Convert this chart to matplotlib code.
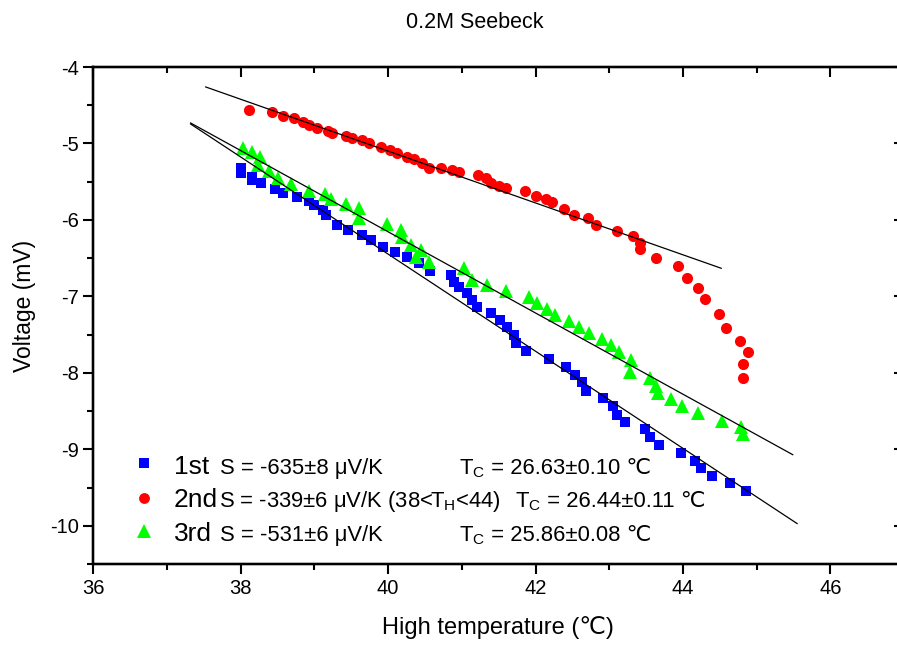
import matplotlib
matplotlib.use("Agg")
import matplotlib.pyplot as plt
import numpy as np
from matplotlib.transforms import offset_copy

plt.rcParams['font.family'] = ['Liberation Sans', 'DejaVu Sans']
plt.rcParams['axes.unicode_minus'] = False
plt.rcParams['mathtext.default'] = 'regular'

# ---- data ----
t1 = [38.01, 38.01, 38.15, 38.16, 38.28, 38.47, 38.57, 38.77, 38.93, 39.00, 39.11, 39.16,
      39.31, 39.45, 39.65, 39.77, 39.93, 40.10, 40.26, 40.42, 40.57, 40.85, 40.89, 40.96,
      41.07, 41.14, 41.21, 41.40, 41.52, 41.61, 41.71, 41.73, 41.87, 42.18, 42.42, 42.53,
      42.63, 42.69, 42.91, 43.05, 43.11, 43.22, 43.48, 43.56, 43.68, 43.97, 44.16, 44.25,
      44.39, 44.64, 44.86]
v1 = [-5.32, -5.39, -5.44, -5.48, -5.52, -5.59, -5.65, -5.70, -5.75, -5.80, -5.87, -5.93,
      -6.07, -6.13, -6.20, -6.26, -6.35, -6.42, -6.48, -6.56, -6.67, -6.72, -6.81, -6.88,
      -6.95, -7.05, -7.14, -7.22, -7.31, -7.40, -7.50, -7.61, -7.71, -7.82, -7.92, -8.03,
      -8.12, -8.24, -8.33, -8.44, -8.55, -8.64, -8.73, -8.84, -8.94, -9.05, -9.15, -9.24,
      -9.35, -9.44, -9.54]

t2 = [38.11, 38.42, 38.57, 38.72, 38.84, 38.93, 39.04, 39.18, 39.24, 39.43, 39.51, 39.65,
      39.74, 39.91, 40.02, 40.12, 40.25, 40.35, 40.46, 40.56, 40.72, 40.87, 40.96, 41.22,
      41.33, 41.39, 41.50, 41.60, 41.86, 42.00, 42.14, 42.22, 42.38, 42.52, 42.71, 42.82,
      43.11, 43.32, 43.42, 43.42, 43.64, 43.93, 44.06, 44.20, 44.30, 44.49, 44.59, 44.78,
      44.89, 44.82, 44.82]
v2 = [-4.56, -4.59, -4.64, -4.67, -4.72, -4.76, -4.80, -4.84, -4.86, -4.90, -4.93, -4.95,
      -4.99, -5.05, -5.09, -5.12, -5.18, -5.20, -5.25, -5.32, -5.32, -5.35, -5.37, -5.41,
      -5.45, -5.52, -5.56, -5.58, -5.62, -5.69, -5.73, -5.76, -5.86, -5.93, -5.97, -6.07,
      -6.14, -6.21, -6.30, -6.38, -6.50, -6.60, -6.76, -6.89, -7.03, -7.23, -7.42, -7.58,
      -7.73, -7.88, -8.07]

t3 = [38.03, 38.15, 38.26, 38.23, 38.39, 38.51, 38.68, 38.93, 39.14, 39.23, 39.43, 39.60,
      39.60, 39.99, 40.18, 40.19, 40.31, 40.45, 40.38, 40.56, 41.03, 41.14, 41.34, 41.60,
      41.91, 42.02, 42.15, 42.27, 42.45, 42.59, 42.72, 42.90, 43.02, 43.13, 43.29, 43.28,
      43.56, 43.64, 43.66, 43.84, 43.99, 44.20, 44.53, 44.79, 44.81]
v3 = [-5.06, -5.11, -5.18, -5.28, -5.36, -5.45, -5.53, -5.62, -5.66, -5.73, -5.79, -5.84,
      -5.97, -6.05, -6.13, -6.22, -6.33, -6.39, -6.48, -6.55, -6.63, -6.78, -6.85, -6.93,
      -7.01, -7.08, -7.16, -7.24, -7.32, -7.40, -7.48, -7.56, -7.63, -7.73, -7.83, -7.99,
      -8.07, -8.17, -8.26, -8.34, -8.43, -8.52, -8.63, -8.71, -8.80]

# linear fits: slope (mV/K), intercept (mV), x-range
fit_slope = [-0.635, -0.339, -0.531]
fit_intercept = [18.953, 8.460, 15.085]
fit_x0 = [37.32, 37.525, 37.32]
fit_x1 = [45.55, 44.52, 45.49]

run_names = ['1st', '2nd', '3rd']
s_texts = ['S = -635±8 μV/K', 'S = -339±6 μV/K (38<T$_H$<44)', 'S = -531±6 μV/K']
tc_values = [' = 26.63±0.10 ℃', ' = 26.44±0.11 ℃', ' = 25.86±0.08 ℃']

colors = ['#0000FF', '#FF0000', '#00FF00']
markers = ['s', 'o', '^']
msizes = [7.3, 8.0, 10]

W, H = 897, 645
fig = plt.figure(figsize=(W / 100, H / 100), dpi=100)
ax = fig.add_axes([93.3 / W, 1 - 564 / H, (904 - 93.3) / W, (564 - 67) / H])

for t, v, c, m, ms in zip([t1, t2, t3], [v1, v2, v3], colors, markers, msizes):
    ax.plot(t, v, linestyle='none', marker=m, color=c, markersize=ms, markeredgewidth=0, zorder=3)

for s, b, x0, x1 in zip(fit_slope, fit_intercept, fit_x0, fit_x1):
    xx = np.array([x0, x1])
    ax.plot(xx, s * xx + b, color='black', lw=0.9, zorder=4)

xmaj = [36, 38, 40, 42, 44, 46]
xmin = [37, 39, 41, 43, 45, 47]
ymaj = [-10, -9, -8, -7, -6, -5, -4]
ymin = [-10.5, -9.5, -8.5, -7.5, -6.5, -5.5, -4.5]

ax.set_xlim(36, 47)
ax.set_ylim(-10.5, -4)
ax.set_xticks(xmaj)
ax.set_xticks(xmin, minor=True)
ax.set_yticks(ymaj)
ax.set_yticks(ymin, minor=True)
ax.set_xticklabels([str(v) for v in xmaj])
ax.set_yticklabels([str(v) for v in ymaj])

ax.tick_params(which='both', width=1.5, labelsize=14.5, pad=3, direction='out',
               top=False, right=False)
ax.tick_params(which='major', length=7.5)
ax.tick_params(which='minor', length=4)

axt = ax.twiny()
axt.set_xlim(ax.get_xlim())
axt.set_xticks(xmaj)
axt.set_xticks(xmin, minor=True)
axt.tick_params(which='both', direction='in', labeltop=False, width=1.5)
axt.tick_params(which='major', length=7.5)
axt.tick_params(which='minor', length=4)
axr = ax.twinx()
axr.set_ylim(ax.get_ylim())
axr.set_yticks(ymaj)
axr.set_yticks(ymin, minor=True)
axr.tick_params(which='both', direction='in', labelright=False, width=1.5)
axr.tick_params(which='major', length=7.5)
axr.tick_params(which='minor', length=4)
for a in (ax, axt, axr):
    for sp in a.spines.values():
        sp.set_linewidth(1.6)

# legend-like block
def fx(px):
    return (px - 93.3) / (904 - 93.3)

def fy(py):
    return (564 - py) / (564 - 67)

mk_y = [463, 498, 531]
base_y = [474, 507, 541]
leg_ms = [6.5, 7.8, 9.5]
s_x = [220, 219, 220]
tc_x = [459, 515, 459]
renderer = fig.canvas.get_renderer()
for i in range(3):
    ax.plot([fx(144)], [fy(mk_y[i])], marker=markers[i], color=colors[i], markersize=leg_ms[i],
            markeredgewidth=0, linestyle='none', transform=ax.transAxes, clip_on=False)
    ax.text(fx(174), fy(base_y[i]), run_names[i], fontsize=19, va='baseline', ha='left',
            transform=ax.transAxes)
    ax.text(fx(s_x[i]), fy(base_y[i]), s_texts[i], fontsize=15.8, va='baseline', ha='left',
            transform=ax.transAxes)
    tt = ax.text(fx(tc_x[i]), fy(base_y[i]), 'T$_C$', fontsize=15.8, va='baseline', ha='left',
                 transform=ax.transAxes)
    wpx = tt.get_window_extent(renderer=renderer).width
    ax.text(fx(tc_x[i]), fy(base_y[i]), tc_values[i], fontsize=15.8, va='baseline', ha='left',
            transform=offset_copy(ax.transAxes, fig=fig, x=wpx * 72 / fig.dpi, y=0, units='points'))

fig.text(475 / W, 1 - 22 / H, '0.2M Seebeck', fontsize=15.5, ha='center', va='center')
fig.text(498 / W, 1 - 628 / H, 'High temperature (℃)', fontsize=17, ha='center', va='center')
fig.text(25 / W, 1 - 306 / H, 'Voltage (mV)', fontsize=16.5, ha='center', va='center', rotation=90)

fig.savefig('out.png', dpi=100)
